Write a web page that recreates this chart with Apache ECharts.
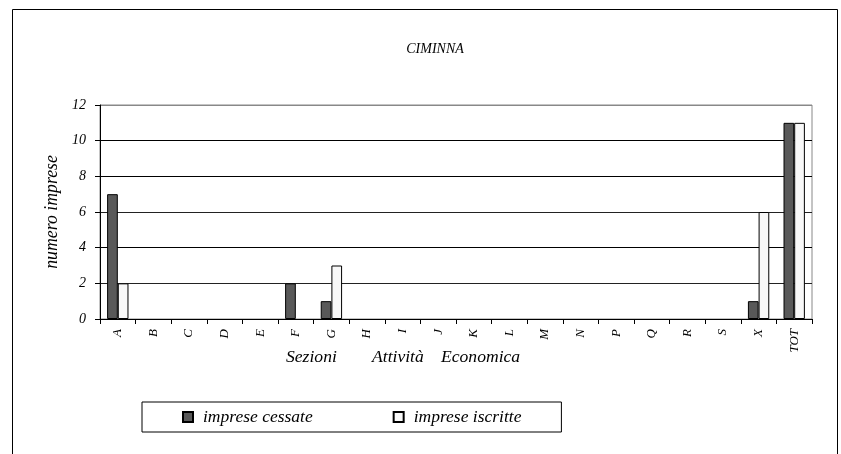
<!DOCTYPE html>
<html>
<head>
<meta charset="utf-8">
<script src="https://cdn.jsdelivr.net/npm/echarts@6/dist/echarts.min.js"></script>
<style>html,body{margin:0;padding:0;background:#fff}#c{width:841px;height:454px}</style>
</head>
<body>
<div id="c"></div>
<script>
var categories = ['A','B','C','D','E','F','G','H','I','J','K','L','M','N','P','Q','R','S','X','TOT'];
var cessate =   [7,0,0,0,0,2,1,0,0,0,0,0,0,0,0,0,0,0,1,11];
var iscritte =  [2,0,0,0,0,0,3,0,0,0,0,0,0,0,0,0,0,0,6,11];
var yTicks = [0,2,4,6,8,10,12];

var FONT = "'Liberation Serif','Times New Roman',serif";
var chart = echarts.init(document.getElementById('c'), null, {renderer:'canvas'});
function toData(arr){ return arr.map(function(v){ return v === 0 ? null : v; }); }
chart.setOption({
  animation: false,
  backgroundColor: '#fff',
  title: {
    text: 'CIMINNA', left: 430, top: 37, textAlign: 'center',
    textStyle: {fontFamily: FONT, fontStyle: 'italic', fontWeight: 'normal', fontSize: 14, color: '#000'}
  },
  grid: {left: 100, top: 105, width: 712, height: 214, show: true, borderColor: '#888', borderWidth: 1, backgroundColor: 'transparent'},
  legend: {
    left: 142, top: 402, orient: 'horizontal',
    padding: [6, 40, 6, 40], itemGap: 80, itemWidth: 10, itemHeight: 10,
    borderColor: '#000', borderWidth: 1, icon: 'rect',
    textStyle: {fontFamily: FONT, fontStyle: 'italic', fontSize: 17.5, color: '#000', padding: [0, 0, 0, 5]},
    data: ['imprese cessate', 'imprese iscritte']
  },
  xAxis: {
    type: 'category', data: categories,
    axisLine: {show: true, lineStyle: {color: '#000', width: 1}},
    axisTick: {show: true, length: 5, alignWithLabel: false, lineStyle: {color: '#000'}},
    axisLabel: {rotate: 90, margin: 10, interval: 0, fontFamily: FONT, fontStyle: 'italic', fontSize: 13, color: '#000'},
    splitLine: {show: false}
  },
  yAxis: {
    type: 'value', min: 0, max: 12, interval: 2,
    name: 'numero imprese', nameLocation: 'middle', nameGap: 35, nameRotate: 90,
    nameTextStyle: {fontFamily: FONT, fontStyle: 'italic', fontSize: 17.8, color: '#000'},
    axisLine: {show: true, lineStyle: {color: '#000', width: 1}},
    axisTick: {show: true, length: 5, inside: false, lineStyle: {color: '#000'}},
    axisLabel: {margin: 14, fontFamily: FONT, fontStyle: 'italic', fontSize: 14, color: '#000',
      formatter: function(v){ return yTicks.indexOf(v) >= 0 ? String(v) : ''; }},
    splitLine: {show: true, lineStyle: {color: ['#000','#222','#000','#222','#000','#000','#888'], width: 1}}
  },
  graphic: [
    {type: 'rect', shape: {x: 12.5, y: 9.5, width: 825, height: 460}, style: {fill: 'none', stroke: '#000', lineWidth: 1}, z: -1},
    {type: 'text', left: 286, top: 348, style: {text: 'Sezioni', font: 'italic 17.6px ' + FONT, fill: '#000'}},
    {type: 'text', left: 372, top: 348, style: {text: 'Attività', font: 'italic 17.6px ' + FONT, fill: '#000'}},
    {type: 'text', left: 441, top: 348, style: {text: 'Economica', font: 'italic 17.6px ' + FONT, fill: '#000'}}
  ],
  series: [
    {name: 'imprese cessate', type: 'bar', data: toData(cessate), barGap: '0%', barCategoryGap: '40%',
     itemStyle: {color: '#595959', borderColor: '#000', borderWidth: 1}},
    {name: 'imprese iscritte', type: 'bar', data: toData(iscritte), barGap: '0%', barCategoryGap: '40%',
     itemStyle: {color: '#f8f8f8', borderColor: '#000', borderWidth: 1}}
  ]
});
</script>
</body>
</html>
